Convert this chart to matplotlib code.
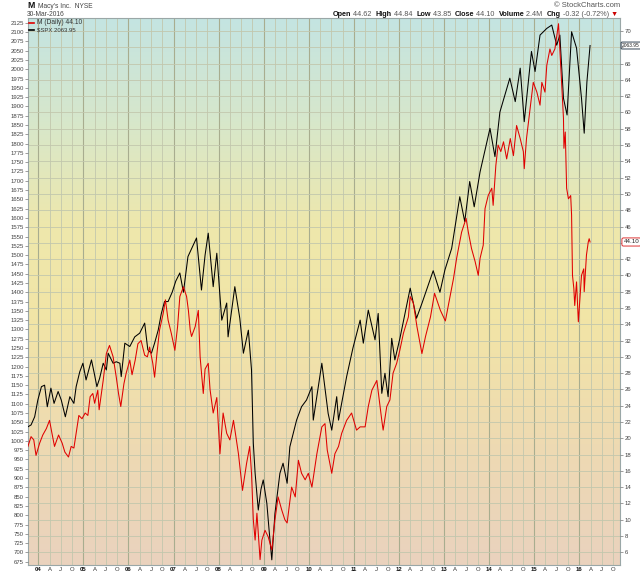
import numpy as np
import matplotlib
matplotlib.use("Agg")
import matplotlib.pyplot as plt
from matplotlib.colors import LinearSegmentedColormap

# ---------------- data (decimal years, closes) ----------------
spx_t = [2003.77, 2003.84, 2003.92, 2003.99, 2004.07, 2004.14, 2004.20, 2004.28, 2004.35, 2004.44,
         2004.51, 2004.60, 2004.70, 2004.79, 2004.84, 2004.92, 2004.99, 2005.06, 2005.18, 2005.25,
         2005.30, 2005.36, 2005.44, 2005.51, 2005.55, 2005.66, 2005.73, 2005.81, 2005.84, 2005.92,
         2006.03, 2006.14, 2006.25, 2006.36, 2006.43, 2006.51, 2006.58, 2006.66, 2006.73, 2006.80,
         2006.88, 2006.97, 2007.05, 2007.14, 2007.22, 2007.32, 2007.41, 2007.51, 2007.62, 2007.70,
         2007.77, 2007.88, 2007.96, 2008.07, 2008.18, 2008.21, 2008.36, 2008.47, 2008.55, 2008.66,
         2008.73, 2008.77, 2008.81, 2008.88, 2008.94, 2008.99, 2009.07, 2009.12, 2009.18, 2009.25,
         2009.36, 2009.43, 2009.52, 2009.58, 2009.73, 2009.84, 2009.95, 2010.07, 2010.10, 2010.29,
         2010.43, 2010.51, 2010.62, 2010.66, 2010.84, 2010.98, 2011.14, 2011.21, 2011.32, 2011.47,
         2011.54, 2011.62, 2011.69, 2011.76, 2011.84, 2011.91, 2012.02, 2012.25, 2012.39, 2012.51,
         2012.76, 2012.91, 2013.02, 2013.17, 2013.35, 2013.46, 2013.57, 2013.67, 2013.80, 2014.02,
         2014.13, 2014.24, 2014.46, 2014.58, 2014.69, 2014.78, 2014.94, 2015.02, 2015.13, 2015.28,
         2015.39, 2015.50, 2015.57, 2015.65, 2015.73, 2015.83, 2015.94, 2016.05, 2016.11, 2016.17,
         2016.24]
spx_v = [1038, 1043, 1065, 1110, 1146, 1150, 1092, 1142, 1101, 1133,
         1110, 1065, 1119, 1101, 1146, 1186, 1209, 1164, 1218, 1177,
         1146, 1168, 1209, 1191, 1236, 1209, 1213, 1209, 1173, 1263,
         1254, 1280, 1290, 1317, 1245, 1236, 1263, 1298, 1343, 1375,
         1375, 1400, 1430, 1452, 1400, 1496, 1520, 1546, 1406, 1500,
         1559, 1415, 1505, 1325, 1371, 1280, 1415, 1330, 1236, 1298,
         1191, 994, 913, 814, 870, 895, 832, 760, 680, 805,
         913, 940, 886, 984, 1056, 1092, 1110, 1146, 1056, 1209,
         1074, 1029, 1119, 1056, 1173, 1250, 1325, 1263, 1352, 1272,
         1343, 1128, 1182, 1119, 1276, 1218, 1275, 1411, 1330, 1370,
         1458, 1400, 1460, 1518, 1657, 1590, 1698, 1630, 1724, 1841,
         1765, 1885, 1976, 1913, 2003, 1859, 2048, 1994, 2092, 2110,
         2119, 2065, 2092, 1922, 1877, 2101, 2057, 1922, 1828, 1966,
         2063.95]

m_t = [2003.77, 2003.84, 2003.90, 2003.95, 2004.03, 2004.10, 2004.18, 2004.25, 2004.29, 2004.36,
       2004.45, 2004.53, 2004.59, 2004.67, 2004.73, 2004.79, 2004.84, 2004.90, 2004.97, 2005.04,
       2005.10, 2005.15, 2005.21, 2005.25, 2005.32, 2005.35, 2005.44, 2005.51, 2005.58, 2005.66,
       2005.73, 2005.78, 2005.83, 2005.90, 2005.95, 2006.03, 2006.08, 2006.15, 2006.21, 2006.28,
       2006.36, 2006.42, 2006.47, 2006.54, 2006.58, 2006.64, 2006.69, 2006.77, 2006.82, 2006.88,
       2006.95, 2007.03, 2007.09, 2007.14, 2007.22, 2007.29, 2007.33, 2007.37, 2007.40, 2007.48,
       2007.55, 2007.59, 2007.66, 2007.70, 2007.77, 2007.81, 2007.88, 2007.96, 2008.03, 2008.10,
       2008.18, 2008.25, 2008.33, 2008.44, 2008.53, 2008.62, 2008.69, 2008.73, 2008.77, 2008.81,
       2008.85, 2008.92, 2008.96, 2009.03, 2009.10, 2009.18, 2009.25, 2009.32, 2009.40, 2009.47,
       2009.52, 2009.62, 2009.70, 2009.77, 2009.84, 2009.92, 2009.99, 2010.07, 2010.18, 2010.29,
       2010.36, 2010.41, 2010.51, 2010.58, 2010.66, 2010.73, 2010.84, 2010.95, 2011.06, 2011.14,
       2011.25, 2011.32, 2011.40, 2011.51, 2011.62, 2011.65, 2011.73, 2011.80, 2011.87, 2011.95,
       2012.02, 2012.10, 2012.21, 2012.25, 2012.32, 2012.40, 2012.51, 2012.59, 2012.70, 2012.79,
       2012.92, 2013.03, 2013.12, 2013.21, 2013.28, 2013.39, 2013.49, 2013.54, 2013.61, 2013.69,
       2013.76, 2013.80, 2013.87, 2013.91, 2013.98, 2014.06, 2014.09, 2014.15, 2014.20, 2014.26,
       2014.32, 2014.39, 2014.47, 2014.54, 2014.61, 2014.69, 2014.76, 2014.78, 2014.83, 2014.91,
       2014.98, 2015.06, 2015.13, 2015.17, 2015.24, 2015.28, 2015.35, 2015.39, 2015.46, 2015.54,
       2015.57, 2015.61, 2015.65, 2015.66, 2015.69, 2015.72, 2015.76, 2015.81, 2015.83, 2015.85,
       2015.88, 2015.90, 2015.94, 2015.98, 2016.01, 2016.05, 2016.10, 2016.11, 2016.16, 2016.20,
       2016.22, 2016.24]
m_v = [19.0, 20.2, 19.8, 17.9, 19.4, 20.4, 21.2, 22.2, 21.0, 19.0,
       20.4, 19.4, 18.3, 17.7, 19.0, 18.8, 20.6, 22.8, 22.4, 23.1,
       22.8, 25.1, 25.5, 24.3, 25.9, 23.5, 27.1, 30.4, 31.4, 30.0,
       27.5, 25.5, 23.9, 26.7, 28.0, 29.6, 27.8, 29.6, 31.6, 32.0,
       30.2, 30.0, 31.2, 29.2, 27.5, 30.8, 33.3, 35.3, 37.0, 34.5,
       32.9, 30.8, 33.7, 37.4, 38.6, 37.4, 35.7, 33.3, 32.5, 33.7,
       35.7, 30.0, 25.5, 28.5, 29.2, 26.0, 23.1, 25.0, 18.1, 23.1,
       20.6, 19.8, 22.2, 18.1, 13.6, 16.9, 19.0, 15.7, 10.0, 7.5,
       10.8, 5.1, 7.5, 8.7, 7.9, 6.3, 10.0, 12.8, 11.2, 10.0,
       9.6, 14.0, 12.8, 17.3, 15.7, 14.9, 15.7, 14.0, 18.1, 21.4,
       21.8, 18.55, 15.7, 18.1, 19.0, 20.6, 22.2, 23.1, 21.0, 21.4,
       21.4, 23.9, 25.9, 27.1, 22.2, 21.0, 23.9, 24.7, 28.0, 29.2,
       30.8, 32.9, 34.9, 37.4, 36.6, 33.7, 30.4, 32.5, 34.9, 37.8,
       35.7, 34.4, 37.0, 39.6, 42.1, 45.3, 47.0, 45.3, 43.3, 41.7,
       40.0, 42.1, 43.7, 48.2, 49.8, 50.7, 48.6, 53.5, 56.0, 55.2,
       56.4, 54.3, 56.8, 54.7, 58.4, 56.8, 55.2, 53.1, 56.8, 60.5,
       63.7, 62.5, 60.9, 63.7, 62.5, 65.8, 67.8, 67.0, 67.8, 70.9,
       67.8, 63.7, 59.3, 55.6, 57.6, 50.7, 49.4, 49.8, 47.4, 40.0,
       38.4, 36.3, 39.2, 34.3, 36.7, 40.0, 40.8, 38.0, 42.5, 44.1,
       44.5, 44.10]

years = list(range(2004, 2017))
quarter_labels = ["A", "J", "O"]
spx_ticks = list(range(675, 2126, 25))
m_ticks = list(range(6, 71, 2))
m_hidden = [44, 68]          # right-axis labels covered by the last-value tags

spx_last = "2063.95"
m_last = "44.10"

# ---------------- figure ----------------
W, H = 640, 576
FONT = "Liberation Sans"
plt.rcParams["font.family"] = [FONT, "DejaVu Sans"]
fig = plt.figure(figsize=(W / 100, H / 100), dpi=100)
fig.patch.set_facecolor("white")

rect = [28 / W, 11 / H, 592 / W, 547 / H]
XLIM = (2003.772, 2016.904)
SPX_LIM = (666.1, 2138.0)
M_LIM = (4.44, 71.6)

# background + grid axes
axbg = fig.add_axes(rect)
stops = [(0.0, (234 / 255, 210 / 255, 190 / 255)),
         (0.22, (238 / 255, 218 / 255, 178 / 255)),
         (0.45, (242 / 255, 229 / 255, 166 / 255)),
         (0.62, (238 / 255, 232 / 255, 172 / 255)),
         (0.82, (214 / 255, 231 / 255, 204 / 255)),
         (1.0, (196 / 255, 228 / 255, 226 / 255))]
cmap = LinearSegmentedColormap.from_list("bg", stops)
grad = np.linspace(0, 1, 256).reshape(-1, 1)
axbg.imshow(grad, aspect="auto", cmap=cmap, origin="lower",
            extent=[0, 1, 0, 1], transform=axbg.transAxes, zorder=0)
for y in years:
    axbg.axvline(y, color=(0.66, 0.68, 0.56), lw=0.8, zorder=1)
    for q in range(1, 4):
        axbg.axvline(y + q * 0.25, color=(0.76, 0.78, 0.68), lw=0.6, zorder=1)
for mt in m_ticks:
    axbg.axhline(mt, color=(0.76, 0.78, 0.68), lw=0.6, zorder=1)
axbg.set_xticks([])
axbg.set_yticks([])
axbg.tick_params(bottom=False, left=False, labelbottom=False, labelleft=False)
for s in axbg.spines.values():
    s.set_color("#9aa7a7")
    s.set_linewidth(0.8)
axbg.set_xlim(*XLIM)
axbg.set_ylim(*M_LIM)

# SPX axis (left)
axs = fig.add_axes(rect)
axs.patch.set_visible(False)
axs.plot(spx_t, spx_v, color="black", lw=0.75, zorder=3)
axs.set_ylim(*SPX_LIM)
axs.set_yticks(spx_ticks)
axs.set_yticklabels([str(v) for v in spx_ticks])
axs.tick_params(axis="y", which="both", left=True, right=False, labelleft=True,
                length=2, width=0.5, color="#777777", labelsize=4.3,
                labelcolor="#444444", pad=1)
for s in axs.spines.values():
    s.set_visible(False)

xt = []
xl = []
for y in years:
    xt.append(y)
    xl.append(str(y)[2:])
    for q, lab in enumerate(quarter_labels, start=1):
        xt.append(y + q * 0.25)
        xl.append(lab)
axs.set_xticks(xt)
axs.set_xticklabels(xl)
axs.tick_params(axis="x", length=0, labelsize=4.3, labelcolor="#333333", pad=1.5)
for lab in axs.get_xticklabels():
    if lab.get_text().isdigit():
        lab.set_fontweight("bold")
        lab.set_color("#111111")
axs.set_xlim(*XLIM)

# M axis (right)
axm = fig.add_axes(rect)
axm.patch.set_visible(False)
axm.plot(m_t, m_v, color="#e00000", lw=0.75, zorder=4)
axm.set_ylim(*M_LIM)
axm.yaxis.tick_right()
axm.set_yticks(m_ticks)
axm.set_yticklabels(["" if v in m_hidden else str(v) for v in m_ticks])
axm.tick_params(axis="y", right=True, left=False, length=2, width=0.5,
                color="#777777", labelsize=4.3, labelcolor="#444444", pad=1.5)
axm.set_xticks([])
axm.tick_params(axis="x", bottom=False, labelbottom=False)
for s in axm.spines.values():
    s.set_visible(False)
axm.set_xlim(*XLIM)

# last-value tags on the right
axs.annotate(spx_last, xy=(1.0, spx_v[-1]), xycoords=("axes fraction", "data"),
             xytext=(1.5, 0), textcoords="offset points", va="center", ha="left",
             fontsize=3.5, color="#222222", annotation_clip=False,
             bbox=dict(boxstyle="round,pad=0.2", fc="white", ec="#334455", lw=0.7))
axm.annotate(m_last, xy=(1.0, m_v[-1]), xycoords=("axes fraction", "data"),
             xytext=(2.5, 0), textcoords="offset points", va="center", ha="left",
             fontsize=4.5, color="#222222", annotation_clip=False,
             bbox=dict(boxstyle="round,pad=0.25", fc="white", ec="#dd3333", lw=0.7))

# legend in the top-left
fig.add_artist(plt.Line2D([29 / W, 34 / W], [1 - 22.5 / H, 1 - 22.5 / H], color="#e00000", lw=1.2))
fig.text(37 / W, 1 - 22.5 / H, "M (Daily) " + m_last, fontsize=4.8, color="#333333", va="center")
fig.add_artist(plt.Line2D([29 / W, 34 / W], [1 - 29.5 / H, 1 - 29.5 / H], color="black", lw=1.2))
fig.text(37 / W, 1 - 29.5 / H, "$SPX " + spx_last, fontsize=4.3, color="#333333", va="center")

# header left
fig.text(27.5 / W, 1 - 6 / H, "M", fontsize=6.3, fontweight="bold", color="#111111", va="center")
fig.text(38 / W, 1 - 6 / H, "Macy's Inc.  NYSE", fontsize=4.8, color="#444444", va="center")
fig.text(27 / W, 1 - 14.5 / H, "30-Mar-2016", fontsize=4.8, color="#444444", va="center")

# header right
fig.text(620 / W, 1 - 5.5 / H, "© StockCharts.com", fontsize=5.5, color="#555555",
         va="center", ha="right")
pieces = [("Open", "bold", "#111111"), (" 44.62  ", "normal", "#555555"),
          ("High", "bold", "#111111"), (" 44.84  ", "normal", "#555555"),
          ("Low", "bold", "#111111"), (" 43.85  ", "normal", "#555555"),
          ("Close", "bold", "#111111"), (" 44.10  ", "normal", "#555555"),
          ("Volume", "bold", "#111111"), (" 2.4M  ", "normal", "#555555"),
          ("Chg", "bold", "#111111"), (" -0.32 (-0.72%) ", "normal", "#555555"),
          ("▼", "normal", "#cc0000")]
renderer = fig.canvas.get_renderer()
arts = []
total = 0.0
for txt, wt, col in pieces:
    t = fig.text(0, 1 - 14.5 / H, txt, fontsize=5.2, fontweight=wt, color=col,
                 va="center", ha="left", family=[FONT, "DejaVu Sans"])
    bb = t.get_window_extent(renderer=renderer)
    arts.append((t, bb.width))
    total += bb.width
x0 = 618 - total
for t, w in arts:
    t.set_x(x0 / W)
    x0 += w

fig.savefig("out.png", dpi=100)
